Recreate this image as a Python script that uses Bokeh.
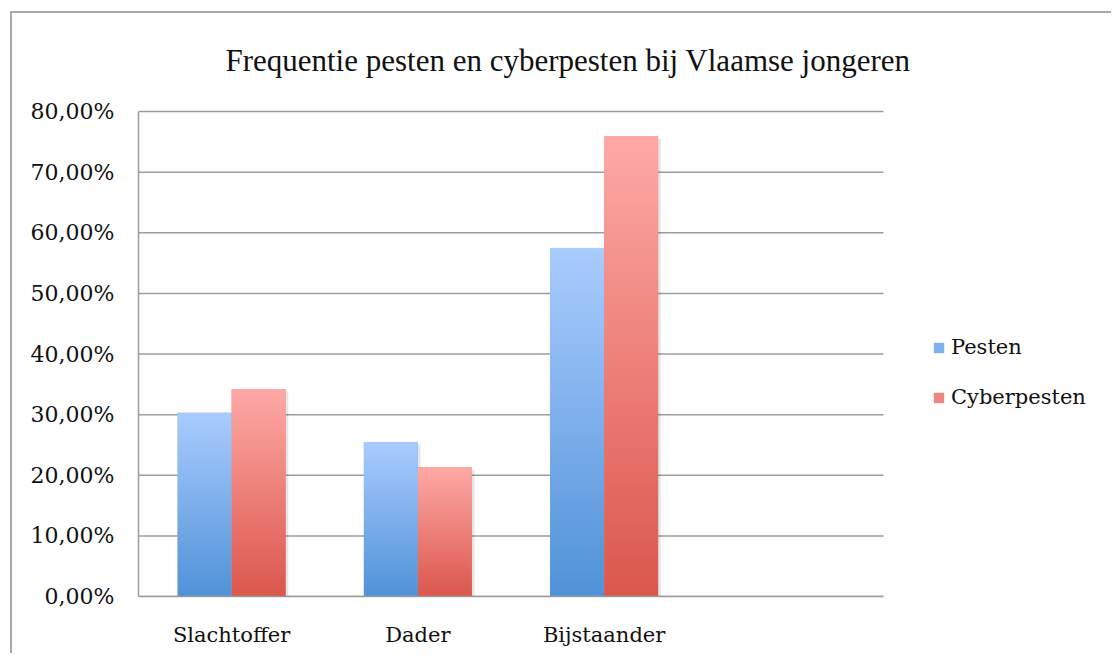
import numpy as np
from bokeh.plotting import figure
from bokeh.models import (Range1d, FixedTicker, Legend, LegendItem, Label)
from bokeh.embed import file_html
from bokeh.resources import INLINE

# ---- data ----
title_text = "Frequentie pesten en cyberpesten bij Vlaamse jongeren"
categories = ["Slachtoffer", "Dader", "Bijstaander"]
series_names = ["Pesten", "Cyberpesten"]
pesten = [30.3, 25.5, 57.5]
cyberpesten = [34.2, 21.3, 75.9]
y_ticks = [0, 10, 20, 30, 40, 50, 60, 70, 80]
y_tick_labels = ["0,00%", "10,00%", "20,00%", "30,00%", "40,00%",
                 "50,00%", "60,00%", "70,00%", "80,00%"]

# ---- style / layout ----
LABEL_FONT = "DejaVu Serif"
TITLE_FONT = "Liberation Serif"
GRID = "#9c9c9c"
blue_top, blue_bot = (170, 204, 254), (80, 146, 216)
red_top, red_bot = (254, 169, 166), (219, 87, 76)
n_slots = len(categories) + 1          # chart keeps one empty slot on the right
y_max = y_ticks[-1]
bar_w = 0.29
W, H = 1101, 642
LEFT, BOTTOM = 126, 59
PLOT_W, PLOT_H = 745, 485               # size of the value area in px
x_end = n_slots * (W - LEFT) / PLOT_W   # frame extends right (legend area)
y_end = y_max * (H - BOTTOM) / PLOT_H   # frame extends up (title area)

def gradient(bot, top, n=256):
    img = np.empty((n, 2), dtype=np.uint32)
    view = img.view(dtype=np.uint8).reshape((n, 2, 4))
    t = np.linspace(0, 1, n)[:, None]
    for c in range(3):
        view[:, :, c] = np.round(bot[c] + (top[c] - bot[c]) * t).astype(np.uint8)
    view[:, :, 3] = 255
    return img

p = figure(width=W, height=H, x_range=Range1d(0, x_end), y_range=Range1d(0, y_end),
           output_backend="svg", toolbar_location=None,
           min_border_left=LEFT, min_border_right=0, min_border_top=0,
           min_border_bottom=BOTTOM)
p.margin = (11, 0, 0, 10)
p.styles = {"border-left": "2px solid #a8a8a8", "border-top": "2px solid #a8a8a8"}
p.outline_line_color = None
p.background_fill_color = "white"
p.border_fill_color = "white"

centers = [i + 0.5 for i in range(len(categories))]
n = len(categories)

# horizontal gridlines across the category area only
p.segment(x0=[0] * len(y_ticks), x1=[n_slots] * len(y_ticks), y0=y_ticks, y1=y_ticks,
          line_color=GRID, line_width=1.5)

# soft shadows to the right of each bar
p.quad(left=[c - bar_w + 0.01 for c in centers] + [c + 0.01 for c in centers],
       right=[c + 0.014 for c in centers] + [c + bar_w + 0.014 for c in centers],
       bottom=[0] * (2 * n), top=[v - 0.4 for v in pesten] + [v - 0.4 for v in cyberpesten],
       fill_color="black", fill_alpha=0.10, line_color=None)

# flat base bars (also used for the legend swatches), gradient drawn on top
r_b = p.vbar(x=[c - bar_w / 2 for c in centers], top=pesten, width=bar_w,
             fill_color="#80b1ef", line_color=None)
r_r = p.vbar(x=[c + bar_w / 2 for c in centers], top=cyberpesten, width=bar_w,
             fill_color="#ef8680", line_color=None)

blue_img = gradient(blue_bot, blue_top)
red_img = gradient(red_bot, red_top)
p.image_rgba(image=[blue_img] * n, x=[c - bar_w for c in centers],
             y=[0] * n, dw=[bar_w] * n, dh=pesten)
p.image_rgba(image=[red_img] * n, x=centers,
             y=[0] * n, dw=[bar_w] * n, dh=cyberpesten)

legend = Legend(items=[LegendItem(label=series_names[0], renderers=[r_b]),
                       LegendItem(label=series_names[1], renderers=[r_r])],
                location=(794, 184), margin=0, padding=0, spacing=20, glyph_width=13,
                glyph_height=13, label_height=30, label_standoff=6, border_line_color=None,
                background_fill_alpha=0, label_text_font=LABEL_FONT,
                label_text_font_size="21px", label_text_color="#111111")
p.add_layout(legend, "center")

# axes
for ax in (p.xaxis[0], p.yaxis[0]):
    ax.axis_line_color = GRID
    ax.axis_line_width = 1.5
    ax.major_tick_line_color = None
    ax.minor_tick_line_color = None
    ax.major_label_text_font = LABEL_FONT
    ax.major_label_text_color = "#111111"

p.xaxis.major_label_text_font_size = "21px"
p.yaxis.major_label_text_font_size = "22px"
p.xaxis.bounds = (0, n_slots)
p.xaxis.ticker = FixedTicker(ticks=centers)
p.xaxis.major_label_overrides = {c: name for c, name in zip(centers, categories)}
p.xaxis.major_label_standoff = 20
p.yaxis.bounds = (0, y_max)
p.yaxis.ticker = FixedTicker(ticks=y_ticks)
p.yaxis.major_label_overrides = {t: l for t, l in zip(y_ticks, y_tick_labels)}
p.yaxis.major_label_standoff = 18

p.xgrid.visible = False
p.ygrid.visible = False

# title (inside the frame's upper area)
p.add_layout(Label(x=2.306, y=88.4, text=title_text, text_font=TITLE_FONT,
                   text_font_size="31px", text_align="center", text_baseline="middle",
                   text_color="#111111"))

open("out.html", "w").write(file_html(p, INLINE))
